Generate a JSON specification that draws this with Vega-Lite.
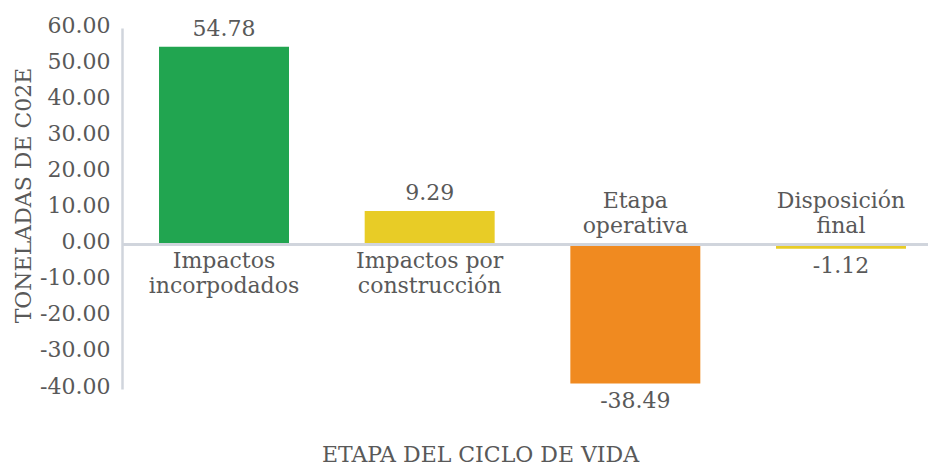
{
  "$schema": "https://vega.github.io/schema/vega-lite/v6.json",
  "width": 806,
  "height": 361,
  "autosize": {"type": "none"},
  "padding": {"left": 122, "top": 28, "right": 0, "bottom": 77},
  "background": "white",
  "config": {
    "view": {"stroke": null},
    "font": "DejaVu Serif",
    "axis": {"labelOverlap": false, "labelBound": false},
    "locale": {"number": {"decimal": ".", "thousands": ",", "grouping": [3], "currency": ["$", ""], "minus": "-"}}
  },
  "data": {
    "values": [
      {"etapa": "Impactos incorpodados", "label": "Impactos\nincorpodados", "valor": 54.78},
      {"etapa": "Impactos por construcción", "label": "Impactos por\nconstrucción", "valor": 9.29},
      {"etapa": "Etapa operativa", "label": "Etapa\noperativa", "valor": -38.49},
      {"etapa": "Disposición final", "label": "Disposición\nfinal", "valor": -1.12}
    ]
  },
  "encoding": {
    "x": {
      "field": "etapa", "type": "nominal", "sort": null,
      "scale": {"paddingInner": 0.368, "paddingOuter": 0.18, "range": [0, 821]},
      "axis": {
        "title": "ETAPA DEL CICLO DE VIDA", "labels": false, "ticks": false, "domain": false,
        "titleFont": "DejaVu Serif", "titleFontSize": 22, "titleFontWeight": "normal",
        "titleColor": "#595959", "titleX": 358, "titleY": 65, "titleBaseline": "middle"
      }
    },
    "y": {
      "field": "valor", "type": "quantitative",
      "scale": {"domain": [-40, 60], "nice": false, "zero": false},
      "axis": {
        "values": [-40, -30, -20, -10, 0, 10, 20, 30, 40, 50, 60],
        "tickCount": 20,
        "format": ".2f", "grid": false, "ticks": false, "labelOverlap": false,
        "domainColor": "#d0d5dc", "domainWidth": 2.5,
        "labelFont": "DejaVu Serif", "labelFontSize": 22, "labelColor": "#595959",
        "labelPadding": 12, "labelOffset": -3,
        "title": "TONELADAS DE C02E", "titleX": -99, "titleY": 167, "titleAngle": -90,
        "titleBaseline": "middle", "titleAlign": "center",
        "titleFont": "DejaVu Serif", "titleFontSize": 22, "titleFontWeight": "normal", "titleColor": "#595959"
      }
    }
  },
  "layer": [
    {
      "mark": {"type": "bar"},
      "encoding": {
        "color": {
          "field": "etapa", "type": "nominal", "legend": null,
          "scale": {
            "domain": ["Impactos incorpodados", "Impactos por construcción", "Etapa operativa", "Disposición final"],
            "range": ["#21A550", "#E8CC26", "#F08A20", "#E8CC26"]
          }
        }
      }
    },
    {
      "mark": {"type": "rule", "color": "#d0d5dc", "strokeWidth": 2.5},
      "encoding": {"x": null, "y": {"datum": 0}}
    },
    {
      "transform": [{"filter": "datum.valor >= 0"}],
      "mark": {"type": "text", "baseline": "alphabetic", "dy": -11, "fontSize": 22, "color": "#595959", "font": "DejaVu Serif"},
      "encoding": {
        "text": {"field": "valor", "type": "quantitative", "format": ".2f"}
      }
    },
    {
      "transform": [{"filter": "datum.valor < 0"}],
      "mark": {"type": "text", "baseline": "top", "dy": 7, "fontSize": 22, "color": "#595959", "font": "DejaVu Serif"},
      "encoding": {
        "text": {"field": "valor", "type": "quantitative", "format": ".2f"}
      }
    },
    {
      "transform": [{"filter": "datum.valor >= 0"}],
      "mark": {"type": "text", "baseline": "top", "dy": 6, "fontSize": 22, "lineHeight": 25, "lineBreak": "\n", "color": "#595959", "font": "DejaVu Serif"},
      "encoding": {
        "y": {"datum": 0},
        "text": {"field": "label", "type": "nominal"}
      }
    },
    {
      "transform": [{"filter": "datum.valor < 0"}],
      "mark": {"type": "text", "baseline": "bottom", "dy": -32, "fontSize": 22, "lineHeight": 25, "lineBreak": "\n", "color": "#595959", "font": "DejaVu Serif"},
      "encoding": {
        "y": {"datum": 0},
        "text": {"field": "label", "type": "nominal"}
      }
    }
  ]
}
